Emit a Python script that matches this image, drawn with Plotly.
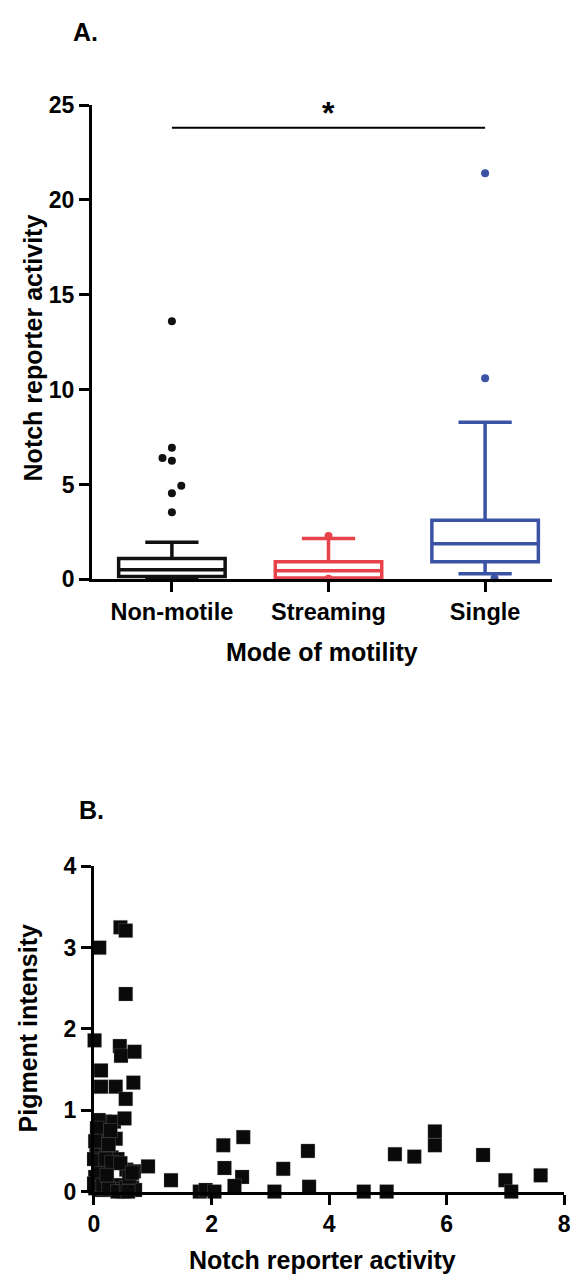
import plotly.graph_objects as go

# ---------------- Panel A data ----------------
categories = ["Non-motile", "Streaming", "Single"]
box_q1 = [0.15, 0.07, 0.93]
box_median = [0.50, 0.45, 1.87]
box_q3 = [1.10, 0.93, 3.11]
box_lower = [0.02, 0.0, 0.29]
box_upper = [1.95, 2.15, 8.28]
box_colors = ["#111111", "#E8434A", "#3A53A4"]

# outliers (value) and their small horizontal jitter (category units)
nonmotile_out = [13.6, 6.94, 6.39, 6.25, 4.93, 4.54, 3.54]
nonmotile_jit = [0, 0, -0.06, 0, 0.06, 0, 0]
streaming_out = [2.28, 0.03]
streaming_jit = [0, 0]
single_out = [21.4, 10.6, 0.05]
single_jit = [0, 0, 0.06]

sig_level = 23.8
sig_text = "*"

# ---------------- Panel B data ----------------
notch_x = [0.45, 0.54, 0.09, 0.54, 0.01, 0.44, 0.46, 0.69, 0.12, 0.12, 0.37, 0.67,
           0.54, 0.19, 0.34, 0.52, 0.37, 0.04, 0.92, 1.31, 1.80, 1.90, 2.05, 2.20,
           2.22, 2.54, 2.52, 2.39, 3.07, 3.22, 3.64, 3.66, 4.59, 4.98, 5.12, 5.45,
           5.80, 5.80, 6.62, 7.00, 7.10, 7.60,
           0.08, 0.15, 0.22, 0.05, 0.12, 0.22, 0.30, 0.40, 0.08, 0.18, 0.02, 0.10,
           0.20, 0.55, 0.62, 0.68, 0.60, 0.65, 0.70, 0.45, 0.33, 0.25, 0.12, 0.02,
           0.50, 0.15,
           0.08, 0.05, 0.28, 0.02, 0.25, 0.00, 0.10, 0.20, 0.30, 0.45, 0.00, 0.08,
           0.15, 0.22, 0.25, 0.40, 0.55, 0.60, 0.65, 0.58]
pigment_y = [3.25, 3.21, 3.00, 2.43, 1.86, 1.79, 1.67, 1.72, 1.49, 1.29, 1.29, 1.34,
             1.14, 0.86, 0.86, 0.90, 0.65, 0.50, 0.31, 0.14, 0.00, 0.02, 0.00, 0.57,
             0.29, 0.67, 0.18, 0.07, 0.00, 0.28, 0.50, 0.06, 0.00, 0.00, 0.46, 0.43,
             0.74, 0.57, 0.45, 0.14, 0.00, 0.20,
             0.72, 0.62, 0.70, 0.58, 0.45, 0.50, 0.42, 0.40, 0.32, 0.30, 0.18, 0.12,
             0.20, 0.27, 0.22, 0.25, 0.12, 0.05, 0.02, 0.08, 0.03, 0.02, 0.02, 0.04,
             0.00, 0.15,
             0.88, 0.78, 0.75, 0.62, 0.58, 0.40, 0.38, 0.40, 0.36, 0.35, 0.10, 0.22,
             0.08, 0.20, 0.03, 0.00, 0.05, 0.18, 0.23, 0.00]

FONT = "Liberation Sans, Arial, Helvetica, sans-serif"
W, H = 579, 1282

fig = go.Figure()

for i, cat in enumerate(categories):
    fig.add_trace(go.Box(
        x=[i], q1=[box_q1[i]], median=[box_median[i]], q3=[box_q3[i]],
        lowerfence=[box_lower[i]], upperfence=[box_upper[i]],
        width=0.68, whiskerwidth=0.5, boxpoints=False,
        line=dict(color=box_colors[i], width=3.5), fillcolor="rgba(255,255,255,0)",
        xaxis="x", yaxis="y", showlegend=False, hoverinfo="skip"))

for i, (vals, jit) in enumerate([(nonmotile_out, nonmotile_jit),
                                 (streaming_out, streaming_jit),
                                 (single_out, single_jit)]):
    fig.add_trace(go.Scatter(
        x=[i + j for j in jit], y=vals, mode="markers",
        marker=dict(color=box_colors[i], size=8),
        xaxis="x", yaxis="y", showlegend=False, cliponaxis=False))

fig.add_trace(go.Scatter(
    x=notch_x, y=pigment_y, mode="markers",
    marker=dict(symbol="square", size=14, color="#0a0a0a",
                line=dict(color="rgba(150,150,150,0.5)", width=0.5)),
    xaxis="x2", yaxis="y2", showlegend=False, cliponaxis=False))

# significance bar
fig.add_shape(type="line", xref="x", yref="y", x0=0, x1=2, y0=sig_level, y1=sig_level,
              line=dict(color="black", width=2))
fig.add_annotation(x=1, y=sig_level, xref="x", yref="y", text="<b>" + sig_text + "</b>",
                   showarrow=False, yanchor="bottom", yshift=-5,
                   font=dict(family=FONT, size=32, color="black"))

axis_common = dict(showline=True, linewidth=3, linecolor="black", ticks="outside",
                   ticklen=10, tickwidth=3, tickcolor="black", showgrid=False,
                   zeroline=False, mirror=False,
                   tickfont=dict(family=FONT, size=23, color="black", weight="bold"))

fig.update_layout(
    width=W, height=H, autosize=False,
    margin=dict(l=0, r=0, t=0, b=0),
    paper_bgcolor="white", plot_bgcolor="white",
    xaxis=dict(domain=[88 / W, 559 / W], range=[-0.51, 2.43], anchor="y",
               tickvals=[0, 1, 2], ticktext=categories,
               **{k: v for k, v in axis_common.items() if k != "tickfont"},
               tickfont=dict(family=FONT, size=23.5, color="black", weight="bold")),
    yaxis=dict(domain=[(H - 578) / H, (H - 94) / H], range=[0, 25], anchor="x",
               tickvals=[0, 5, 10, 15, 20, 25], **axis_common),
    xaxis2=dict(domain=[90 / W, 571 / W], range=[0, 8], anchor="y2",
                tickvals=[0, 2, 4, 6, 8], **axis_common),
    yaxis2=dict(domain=[(H - 1203) / H, (H - 871) / H], range=[0, 4], anchor="x2",
                tickvals=[0, 1, 2, 3, 4], **axis_common),
)

title_font = dict(family=FONT, size=25, color="black", weight="bold")
annots = [
    dict(text="A.", x=67 / W, y=1 - 19 / H, xanchor="left", yanchor="middle"),
    dict(text="B.", x=73 / W, y=1 - 814 / H, xanchor="left", yanchor="middle"),
    dict(text="Notch reporter activity", x=28 / W, y=1 - 342 / H, textangle=-90,
         xanchor="center", yanchor="middle"),
    dict(text="Mode of motility", x=(88 + 559) / 2 / W, y=1 - 652 / H,
         xanchor="center", yanchor="middle"),
    dict(text="Pigment intensity", x=22 / W, y=1 - 1037 / H, textangle=-90,
         xanchor="center", yanchor="middle"),
    dict(text="Notch reporter activity", x=(90 + 571) / 2 / W - 7 / W, y=1 - 1273 / H,
         xanchor="center", yanchor="middle"),
]
for a in annots:
    fig.add_annotation(xref="paper", yref="paper", showarrow=False,
                       font=title_font, **a)

fig.write_html("out.html")
